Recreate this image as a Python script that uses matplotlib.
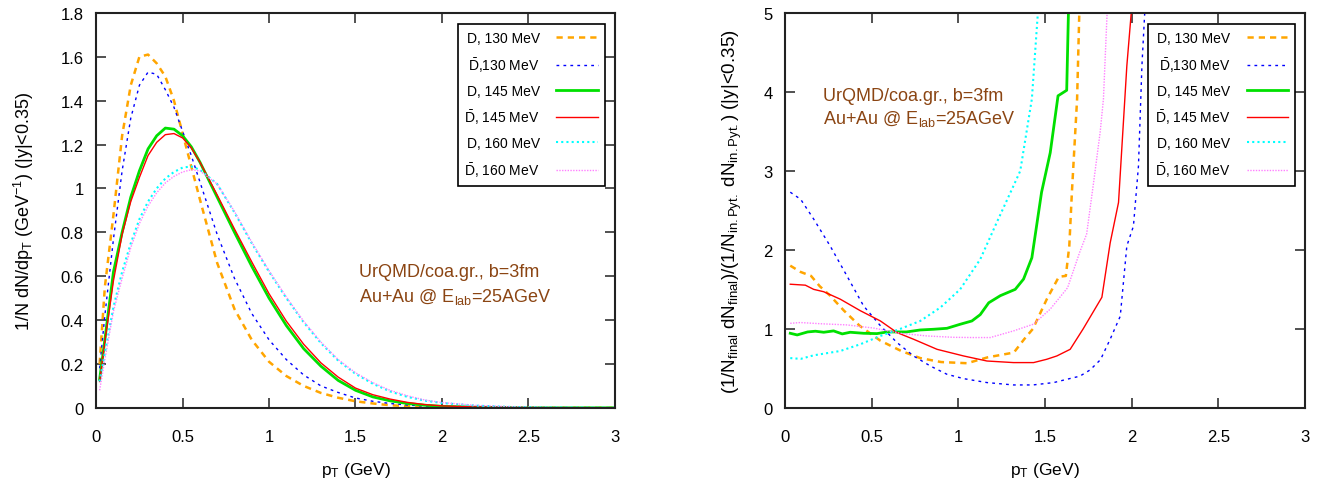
import numpy as np
import matplotlib
matplotlib.use("Agg")
import matplotlib.pyplot as plt
from matplotlib.ticker import FormatStrFormatter, MultipleLocator

plt.rcParams['font.family'] = ['Liberation Sans', 'DejaVu Sans']
plt.rcParams['mathtext.fontset'] = 'custom'
plt.rcParams['mathtext.rm'] = 'Liberation Sans'
plt.rcParams['mathtext.it'] = 'Liberation Sans:italic'

labels = ["D, 130 MeV", "$\\bar{\\mathrm{D}}$,130 MeV", "D, 145 MeV",
          "$\\bar{\\mathrm{D}}$, 145 MeV", "D, 160 MeV",
          "$\\bar{\\mathrm{D}}$, 160 MeV"]

# left panel: pT spectra, common pT grid
pt_spec = [0.02, 0.05, 0.1, 0.15, 0.2, 0.25, 0.3, 0.35, 0.4, 0.45, 0.5, 0.55,
           0.6, 0.7, 0.8, 0.9, 1.0, 1.1, 1.2, 1.3, 1.4, 1.5, 1.6, 1.7, 1.8,
           1.9, 2.0, 2.2, 2.4, 2.6, 2.8, 3.0]
spec_d130 = [0.20, 0.55, 0.88, 1.24, 1.47, 1.60, 1.61, 1.57, 1.51, 1.40, 1.25,
             1.10, 0.95, 0.66, 0.45, 0.31, 0.21, 0.145, 0.10, 0.068, 0.046,
             0.03, 0.02, 0.012, 0.008, 0.005, 0.003, 0.001, 0, 0, 0, 0]
spec_dbar130 = [0.18, 0.42, 0.77, 1.08, 1.32, 1.47, 1.53, 1.52, 1.45, 1.37,
                1.26, 1.15, 1.03, 0.79, 0.59, 0.43, 0.31, 0.22, 0.15, 0.10,
                0.07, 0.045, 0.03, 0.02, 0.013, 0.008, 0.005, 0.002, 0.001,
                0, 0, 0]
spec_d145 = [0.13, 0.31, 0.62, 0.80, 0.96, 1.08, 1.18, 1.24, 1.275, 1.27,
             1.24, 1.19, 1.12, 0.96, 0.80, 0.645, 0.50, 0.375, 0.27, 0.19,
             0.125, 0.08, 0.05, 0.032, 0.02, 0.012, 0.007, 0.003, 0.001,
             0, 0, 0]
spec_dbar145 = [0.12, 0.30, 0.58, 0.79, 0.94, 1.05, 1.15, 1.21, 1.245, 1.25,
                1.23, 1.185, 1.12, 0.97, 0.815, 0.665, 0.52, 0.395, 0.29,
                0.205, 0.14, 0.09, 0.06, 0.04, 0.025, 0.015, 0.009, 0.004,
                0.0015, 0.0005, 0, 0]
spec_d160 = [0.12, 0.25, 0.46, 0.62, 0.75, 0.86, 0.94, 1.00, 1.045, 1.075,
             1.095, 1.10, 1.085, 1.02, 0.89, 0.75, 0.62, 0.50, 0.39, 0.295,
             0.215, 0.155, 0.11, 0.075, 0.05, 0.033, 0.022, 0.01, 0.004,
             0.002, 0.001, 0]
spec_dbar160 = [0.08, 0.22, 0.44, 0.59, 0.73, 0.84, 0.92, 0.98, 1.025, 1.055,
                1.075, 1.085, 1.08, 1.02, 0.895, 0.755, 0.625, 0.505, 0.395,
                0.30, 0.22, 0.16, 0.115, 0.08, 0.055, 0.036, 0.024, 0.011,
                0.005, 0.002, 0.001, 0]

# right panel: ratio final / initial, each curve with its own pT points
pt_r_d130 = [0.03, 0.09, 0.15, 0.2, 0.26, 0.34, 0.43, 0.55, 0.67, 0.78, 0.9,
             1.05, 1.17, 1.32, 1.38, 1.43, 1.51, 1.58, 1.62, 1.64, 1.655,
             1.685, 1.70]
ratio_d130 = [1.80, 1.72, 1.67, 1.54, 1.42, 1.23, 1.04, 0.85, 0.72, 0.63,
              0.58, 0.565, 0.64, 0.70, 0.87, 1.0, 1.375, 1.66, 1.67, 2.05,
              2.73, 3.91, 5.2]
pt_r_dbar130 = [0.03, 0.09, 0.165, 0.26, 0.357, 0.453, 0.55, 0.646, 0.742,
                0.838, 0.934, 1.03, 1.165, 1.318, 1.43, 1.55, 1.66, 1.70, 1.76,
                1.82, 1.876, 1.934, 1.972, 2.01, 2.039, 2.059, 2.08]
ratio_dbar130 = [2.73, 2.64, 2.39, 2.05, 1.67, 1.29, 1.04, 0.826, 0.656, 0.53,
                 0.425, 0.37, 0.32, 0.29, 0.29, 0.32, 0.38, 0.40, 0.48, 0.61,
                 0.87, 1.16, 2.05, 2.30, 3.06, 4.33, 5.2]
pt_r_d145 = [0.03, 0.07, 0.13, 0.175, 0.223, 0.28, 0.33, 0.376, 0.453, 0.53,
             0.59, 0.70, 0.78, 0.857, 0.934, 1.01, 1.078, 1.126, 1.175, 1.242,
             1.328, 1.376, 1.424, 1.48, 1.53, 1.575, 1.625, 1.637]
ratio_d145 = [0.944, 0.923, 0.961, 0.97, 0.957, 0.974, 0.936, 0.957, 0.944,
              0.94, 0.961, 0.961, 0.986, 0.995, 1.007, 1.058, 1.10, 1.18,
              1.33, 1.42, 1.50, 1.63, 1.90, 2.73, 3.23, 3.95, 4.02, 5.2]
pt_r_dbar145 = [0.03, 0.117, 0.165, 0.223, 0.319, 0.434, 0.55, 0.646, 0.742,
                0.877, 1.03, 1.165, 1.318, 1.434, 1.51, 1.568, 1.645, 1.72,
                1.828, 1.876, 1.924, 1.972, 2.005]
ratio_dbar145 = [1.565, 1.553, 1.50, 1.47, 1.375, 1.23, 1.10, 0.953, 0.868,
                 0.741, 0.657, 0.593, 0.573, 0.573, 0.615, 0.657, 0.741, 1.0,
                 1.40, 2.09, 2.60, 4.33, 5.2]
pt_r_d160 = [0.03, 0.09, 0.165, 0.319, 0.434, 0.55, 0.665, 0.78, 0.896, 1.01,
             1.126, 1.222, 1.318, 1.357, 1.424, 1.465]
ratio_d160 = [0.63, 0.62, 0.665, 0.72, 0.805, 0.91, 1.0, 1.10, 1.27, 1.50,
              1.88, 2.35, 2.81, 3.0, 3.91, 5.2]
pt_r_dbar160 = [0.03, 0.088, 0.203, 0.357, 0.511, 0.665, 0.819, 0.972, 1.088,
                1.184, 1.318, 1.434, 1.53, 1.63, 1.70, 1.74, 1.78, 1.818,
                1.837, 1.862]
ratio_dbar160 = [1.07, 1.08, 1.065, 1.05, 1.01, 0.944, 0.91, 0.893, 0.89, 0.89,
                 0.974, 1.06, 1.25, 1.52, 1.97, 2.2, 2.85, 3.49, 3.91, 5.2]

styles = [
    dict(color='#ffa500', lw=1.8, ls=(0, (2.5, 2))),
    dict(color='#0000ff', lw=1.0, ls=(0, (2, 3))),
    dict(color='#00e000', lw=2.0, ls='-'),
    dict(color='#ff0000', lw=1.0, ls='-'),
    dict(color='#00ffff', lw=1.5, ls=(0, (1, 1.5))),
    dict(color='#ff80ff', lw=1.0, ls=(0, (1, 1))),
]

brown = '#8b4513'

fig = plt.figure(figsize=(13.23, 4.85), dpi=100)
ax1 = fig.add_axes([0.0727, 0.157, 0.392, 0.8144])
ax2 = fig.add_axes([0.5934, 0.157, 0.393, 0.8144])

spectra = [spec_d130, spec_dbar130, spec_d145, spec_dbar145, spec_d160,
           spec_dbar160]
for y, lab, st in zip(spectra, labels, styles):
    ax1.plot(pt_spec, y, label=lab, **st)

ratio_x = [pt_r_d130, pt_r_dbar130, pt_r_d145, pt_r_dbar145, pt_r_d160,
           pt_r_dbar160]
ratio_y = [ratio_d130, ratio_dbar130, ratio_d145, ratio_dbar145, ratio_d160,
           ratio_dbar160]
for x, y, lab, st in zip(ratio_x, ratio_y, labels, styles):
    ax2.plot(x, y, label=lab, **st)

ax1.set_xlim(0, 3)
ax1.set_ylim(0, 1.8)
ax1.yaxis.set_major_locator(MultipleLocator(0.2))
ax2.set_xlim(0, 3)
ax2.set_ylim(0, 5)
ax2.yaxis.set_major_locator(MultipleLocator(1))

for ax in (ax1, ax2):
    ax.xaxis.set_major_locator(MultipleLocator(0.5))
    ax.xaxis.set_major_formatter(FormatStrFormatter('%g'))
    ax.yaxis.set_major_formatter(FormatStrFormatter('%g'))
    ax.tick_params(direction='in', length=7, width=1.2, top=True, right=True,
                   labelsize=12, color='#333333')
    ax.tick_params(axis='x', pad=15)
    ax.tick_params(axis='y', pad=9)
    for s in ax.spines.values():
        s.set_linewidth(1.5)
        s.set_color('#222222')
    ax.set_xlabel('p$_\\mathrm{T}$ (GeV)', fontsize=12.5, labelpad=12)
    leg = ax.legend(loc='upper right', bbox_to_anchor=(0.981, 0.972),
                    markerfirst=False, fontsize=10, handlelength=3.0,
                    labelspacing=0.72, borderaxespad=0, fancybox=False,
                    framealpha=1, borderpad=0.5, handletextpad=1.2)
    leg.get_frame().set_edgecolor('black')
    leg.get_frame().set_linewidth(1.2)

ax1.set_ylabel('1/N dN/dp$_\\mathrm{T}$ (GeV$^\\mathrm{-1}$) (|y|<0.35)',
               fontsize=13, labelpad=18)
ax2.set_ylabel('(1/N$_\\mathrm{final}$ dN$_\\mathrm{final}$)/'
               '(1/N$_\\mathrm{in.Pyt.}$ dN$_\\mathrm{in.Pyt.}$) (|y|<0.35)',
               fontsize=13.5, labelpad=14)

ax1.text(1.52, 0.62, 'UrQMD/coa.gr., b=3fm', color=brown, fontsize=13,
         va='center')
ax1.text(1.52, 0.51, 'Au+Au @ E$_\\mathrm{lab}$=25AGeV', color=brown,
         fontsize=13, va='center')
ax2.text(0.22, 3.96, 'UrQMD/coa.gr., b=3fm', color=brown, fontsize=13,
         va='center')
ax2.text(0.22, 3.67, 'Au+Au @ E$_\\mathrm{lab}$=25AGeV', color=brown,
         fontsize=13, va='center')

fig.savefig('out.png', dpi=100)
